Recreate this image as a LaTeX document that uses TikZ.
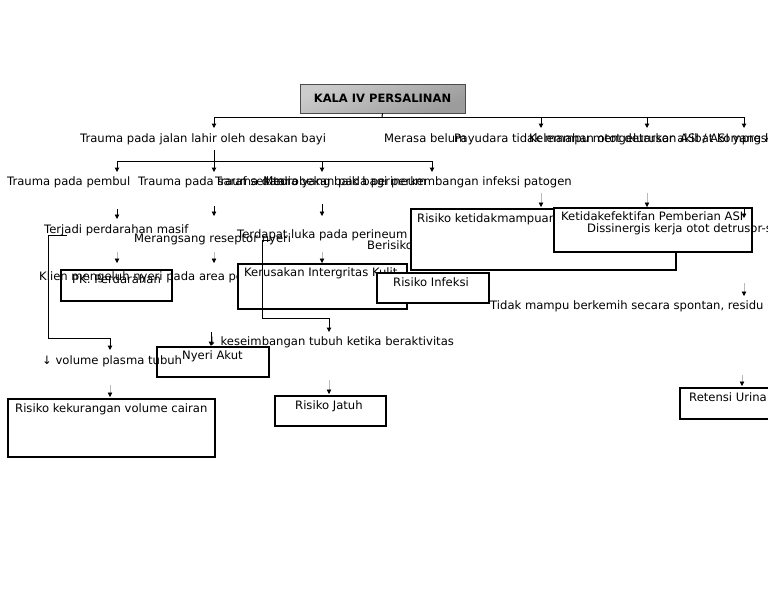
\documentclass[tikz,border=0pt]{standalone}
\usepackage{fontspec}
\setmainfont{DejaVu Sans}
\usetikzlibrary{arrows.meta}
\tikzset{
  kala title/.style={draw=gray!60!black, line width=0.6pt, top color=gray!40, bottom color=gray!78, shading angle=25,
    minimum width=165, minimum height=29, inner sep=0pt, font=\fontsize{11.5}{13}\selectfont\bfseries},
  kala box/.style={draw=black, line width=2.2pt, fill=white, anchor=north west, inner sep=0pt},
  kala open box/.style={kala box, fill=none},
  kala text/.style={font=\fontsize{11.6}{13}\selectfont, anchor=base west, inner sep=0pt},
  kala line/.style={draw=black, line width=1pt},
  kala arrow/.style={kala line, -{Triangle[length=4.5pt,width=4.5pt]}},
  kala short/.style={draw=black, line width=0.7pt, -{Triangle[length=4.5pt,width=4.5pt]}},
  kala thin/.style={draw=gray!55, line width=0.6pt, -{Triangle[length=4.5pt,width=4.5pt,color=black]}},
}

\begin{document}
\begin{tikzpicture}[x=1pt,y=-1pt]
  \useasboundingbox[fill=white] (0,0) rectangle (768,594);
  % judul
  \node[kala title] (kala) at (382.5,98.5) {KALA IV PERSALINAN};
  \coordinate (bar mid) at (382,117);
  \coordinate (bar left) at (214,117);
  \coordinate (bar right) at (744,117);
  \draw[kala line] (kala.south) -- (bar mid);
  \draw[kala line] (bar left) -- (bar right);
  \foreach \x in {214,541,647,744}{\draw[kala arrow] (\x,117) -- (\x,128);}
  % baris 1
  \node[kala text] (jalan) at (80,142) {Trauma pada jalan lahir oleh desakan bayi};
  \node[kala text] (merasa) at (384,142) {Merasa belum};
  \node[kala text] (payudara) at (454,142) {Payudara tidak mampu mengeluarkan ASI / ASI yang keluar sedikit};
  \node[kala text] (kelemahan) at (529,142) {Kelemahan otot detrusor akibat kompresi};
  % baris 2
  \coordinate (jalan bar) at (214,161);
  \draw[kala line] (jalan.south -| jalan bar) ++(0,5) -- (jalan bar);
  \draw[kala line] (117,161) -- (432,161);
  \foreach \x in {117,214,322,432}{\draw[kala arrow] (\x,161) -- (\x,172);}
  \node[kala text] (pembuluh) at (7,185) {Trauma pada pembul};
  \node[kala text] (saraf) at (138,185) {Trauma pada saraf sekitar};
  \node[kala text] (robekan) at (215,185) {Trauma dan robekan pada perineum};
  \node[kala text, anchor=base east] (media) at (572,185) {Media yang baik bagi perkembangan infeksi patogen};
  % baris 3
  \draw[kala short] (117,209) -- (117,219);
  \draw[kala short] (214,206) -- (214,216);
  \draw[kala short] (322,204) -- (322,216);
  \node[kala text] (terjadi) at (44,233) {Terjadi perdarahan masif};
  \node[kala text] (merangsang) at (134,242) {Merangsang reseptor nyeri};
  \node[kala text] (terdapat) at (237,238) {Terdapat luka pada perineum};
  \node[kala text] (berisiko) at (367,249) {Berisiko};
  % baris 4
  \foreach \x in {117,214,322}{\draw[kala thin] (\x,252) -- (\x,263);}
  \node[kala text] (klien) at (39,280) {Klien mengeluh nyeri pada area perineum};
  \node[kala open box, minimum width=111, minimum height=31] (pk box) at (60,269) {};
  \node[kala text] (pk) at (72,283) {PK: Perdarahan};
  \node[kala box, minimum width=169, minimum height=45] (kulit box) at (237,263) {};
  \node[kala text] (kulit) at (244,276) {Kerusakan Intergritas Kulit};
  \draw[kala thin] (541,193) -- (541,207);
  \draw[kala thin] (647,193) -- (647,207);
  \node[kala box, minimum width=265, minimum height=61] (mampu box) at (410,208) {};
  \node[kala text] (mampu) at (417,222) {Risiko ketidakmampuan};
  \node[kala box, minimum width=198, minimum height=44] (asi box) at (553,207) {};
  \node[kala text] (asi) at (561,220) {Ketidakefektifan Pemberian ASI};
  \node[kala text] (dissinergis) at (587,232) {Dissinergis kerja otot detrusor-sfingter};
  \draw[kala short] (744,208) -- (744,218);
  \node[kala box, minimum width=112, minimum height=30] (infeksi box) at (376,272) {};
  \node[kala text] (infeksi) at (393,286) {Risiko Infeksi};
  % kanan
  \draw[kala thin] (744,283) -- (744,296);
  \node[kala text] (berkemih) at (490,309) {Tidak mampu berkemih secara spontan, residu urine};
  \draw[kala thin] (742,375) -- (742,386);
  \node[kala box, minimum width=100, minimum height=31] (urina box) at (679,387) {};
  \node[kala text] (urina) at (689,401) {Retensi Urina};
  % kiri
  \coordinate (darah a) at (67,235);
  \coordinate (darah b) at (48,235);
  \coordinate (darah c) at (110,338);
  \coordinate (darah d) at (110,350);
  \draw[kala line] (darah a) -- (darah b) |- (darah c);
  \draw[kala arrow] (darah c) -- (darah d);
  \node[kala text] (plasma) at (42,364) {↓ volume plasma tubuh};
  \draw[kala thin] (110,385) -- (110,397);
  \node[kala open box, minimum width=207, minimum height=58] (cairan box) at (7,398) {};
  \node[kala text] (cairan) at (15,412) {Risiko kekurangan volume cairan};
  % tengah
  \coordinate (nyeri a) at (270,240);
  \coordinate (nyeri b) at (262,240);
  \coordinate (nyeri c) at (329,318);
  \coordinate (nyeri d) at (329,332);
  \draw[kala line] (nyeri a) -- (nyeri b) |- (nyeri c);
  \draw[kala arrow] (nyeri c) -- (nyeri d);
  \node[kala text] (imbang) at (207,345) {↓ keseimbangan tubuh ketika beraktivitas};
  \draw[kala arrow] (211,332) -- (211,346);
  \node[kala open box, minimum width=112, minimum height=30] (akut box) at (156,346) {};
  \node[kala text] (akut) at (182,359) {Nyeri Akut};
  \draw[kala thin] (329,380) -- (329,394);
  \node[kala open box, minimum width=111, minimum height=30] (jatuh box) at (274,395) {};
  \node[kala text] (jatuh) at (295,409) {Risiko Jatuh};
\end{tikzpicture}
\end{document}
